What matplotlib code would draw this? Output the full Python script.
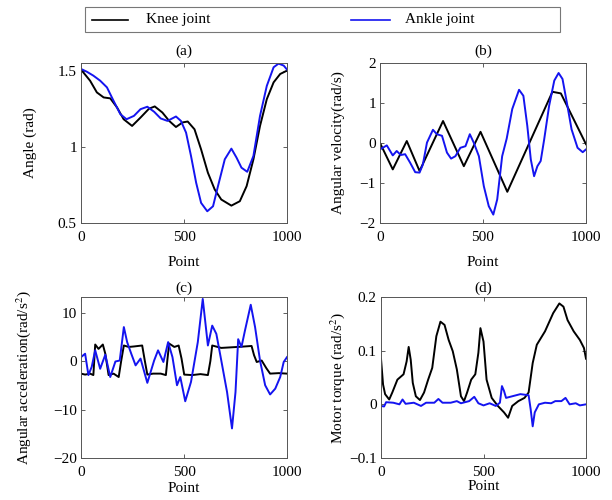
import matplotlib
matplotlib.use("Agg")
import matplotlib.pyplot as plt
from matplotlib.patches import Rectangle
from matplotlib.lines import Line2D
from matplotlib.ticker import FuncFormatter

plt.rcParams['font.family'] = ['Liberation Serif', 'DejaVu Serif']
plt.rcParams['mathtext.fontset'] = 'stix'

# ---------------- data ----------------
# (a) Angle (rad)
a_knee_x = [0, 44, 77, 110, 142, 175, 207, 248, 289, 330, 358, 395, 428, 461, 493, 518, 551, 583, 616, 649, 681, 730, 771, 804, 837, 869, 902, 935, 967, 1000]
a_knee_y = [1.507, 1.434, 1.357, 1.324, 1.318, 1.258, 1.181, 1.137, 1.192, 1.25, 1.265, 1.225, 1.17, 1.13, 1.16, 1.166, 1.115, 0.983, 0.83, 0.72, 0.654, 0.614, 0.643, 0.742, 0.918, 1.137, 1.313, 1.423, 1.478, 1.50]
a_ankle_x = [0, 28, 60, 93, 126, 158, 191, 221, 257, 289, 322, 355, 387, 420, 461, 485, 510, 534, 559, 583, 613, 641, 665, 698, 730, 755, 779, 807, 837, 869, 902, 935, 959, 984, 1000]
a_ankle_y = [1.511, 1.493, 1.467, 1.434, 1.39, 1.302, 1.214, 1.181, 1.203, 1.247, 1.263, 1.23, 1.186, 1.17, 1.199, 1.17, 1.093, 0.94, 0.764, 0.632, 0.577, 0.61, 0.742, 0.918, 0.988, 0.929, 0.863, 0.836, 0.94, 1.203, 1.40, 1.522, 1.546, 1.533, 1.507]

# (b) Angular velocity (rad/s)
b_knee_x = [0, 62, 130, 192, 306, 407, 488, 618, 837, 878, 1000]
b_knee_y = [0.0, -0.66, 0.05, -0.70, 0.55, -0.58, 0.28, -1.22, 1.28, 1.24, -0.03]
b_ankle_x = [0, 33, 62, 81, 101, 122, 146, 171, 192, 208, 228, 257, 276, 301, 325, 345, 366, 390, 415, 436, 455, 480, 504, 528, 550, 569,
             593, 615, 642, 675, 696, 715, 732, 748, 764, 780, 797, 821, 846, 867, 886, 907, 930, 959, 984, 1000]
b_ankle_y = [-0.16, -0.06, -0.31, -0.20, -0.30, -0.28, -0.49, -0.73, -0.74, -0.54, 0.01, 0.33, 0.22, 0.18, -0.24, -0.39, -0.33, -0.12, -0.08, 0.22, 0.01, -0.33, -1.08, -1.58, -1.79, -1.41,
             -0.33, 0.11, 0.85, 1.33, 1.18, 0.43, -0.41, -0.83, -0.58, -0.45, 0.09, 0.93, 1.56, 1.75, 1.60, 1.01, 0.34, -0.12, -0.23, -0.16]

# (c) Angular acceleration (rad/s^2)
c_knee_x = [0, 20, 44, 60, 69, 85, 106, 118, 134, 158, 183, 195, 208, 232, 257, 297, 310, 322, 350, 387, 412, 420, 428, 453, 474, 488, 501,
            540, 580, 616, 628, 637, 681, 760, 828, 840, 853, 877, 900, 918, 960, 1000]
c_knee_y = [-2.6, -2.8, -2.6, -2.9, 3.4, 2.5, 3.4, 1.5, -2.9, -2.6, -3.3, 0.0, 3.2, 2.9, 3.0, 3.2, 0.0, -2.8, -2.6, -2.6, -2.9, 0.5, 3.6, 2.9, 3.2, 0.5, -2.8,
            -2.9, -2.7, -2.9, 0.0, 3.2, 2.7, 2.9, 3.1, 1.2, -0.2, 0.1, -1.5, -2.6, -2.5, -2.6]
c_ankle_x = [0, 20, 36, 52, 69, 93, 118, 142, 167, 188, 208, 224, 244, 265, 289, 322, 355, 374, 400, 423, 444, 466, 482, 506, 534, 567,
             591, 616, 637, 657, 681, 709, 733, 750, 763, 779, 796, 824, 845, 869, 894, 918, 943, 967, 984, 1000]
c_ankle_y = [0.8, 1.5, -2.9, -1.2, 2.2, -1.6, 1.3, -3.3, -0.1, 0.1, 7.0, 3.9, 1.5, -0.9, 0.5, -4.5, 0.1, 2.2, -0.2, 3.9, 0.8, -5.0, -3.3, -8.3, -4.3, 3.9,
             12.8, 3.2, 7.3, 5.6, 0.1, -6.4, -13.9, -6.4, 4.5, 2.9, 6.3, 11.6, 7.0, 0.1, -5.0, -6.9, -5.7, -3.3, -0.2, 0.8]

# (d) Motor torque
d_knee_x = [0, 10, 20, 40, 55, 80, 110, 125, 135, 145, 155, 170, 190, 210, 230, 250, 270, 290, 310, 330, 350, 370, 390, 405,
            420, 440, 460, 475, 485, 500, 515, 540, 570, 600, 620, 640, 670, 700, 720, 740, 760, 800, 840, 870, 890, 910, 940, 970, 990, 1000]
d_knee_y = [0.085, 0.037, 0.019, 0.009, 0.022, 0.046, 0.056, 0.080, 0.107, 0.083, 0.040, 0.015, 0.008, 0.022, 0.046, 0.068, 0.127, 0.154, 0.148, 0.120, 0.099, 0.065, 0.015, 0.006,
            0.022, 0.046, 0.056, 0.096, 0.142, 0.117, 0.046, 0.012, -0.003, -0.015, -0.025, -0.003, 0.006, 0.012, 0.022, 0.077, 0.111, 0.136, 0.170, 0.188, 0.182, 0.157, 0.136, 0.120, 0.105, 0.085]
d_ankle_x = [0, 15, 25, 60, 90, 105, 120, 160, 195, 220, 260, 280, 300, 340, 370, 390, 430, 455, 475, 500, 530, 560, 580, 590, 600, 610,
             640, 680, 720, 730, 740, 750, 770, 800, 830, 850, 880, 900, 920, 950, 970, 1000]
d_ankle_y = [-0.003, -0.004, 0.004, 0.003, 0.0, 0.009, 0.001, 0.003, -0.003, 0.003, 0.003, 0.010, 0.003, 0.003, 0.006, 0.002, 0.006, 0.014, 0.002, -0.002, 0.002, -0.003, 0.003, 0.034, 0.025, 0.012,
             0.015, 0.019, 0.017, -0.009, -0.041, -0.015, 0.0, 0.003, 0.002, 0.006, 0.006, 0.012, 0.0, 0.002, -0.002, 0.0]

labels = ["Knee joint", "Ankle joint"]
titles = ["(a)", "(b)", "(c)", "(d)"]
ylabels = ["Angle (rad)", "Angular velocity(rad/s)", r"Angular acceleration(rad/s$^2$)", r"Motor torque (rad/s$^2$)"]
yticks = [[0.5, 1, 1.5], [-2, -1, 0, 1, 2], [-20, -10, 0, 10], [-0.1, 0, 0.1, 0.2]]
ylims = [(0.5, 1.55), (-2, 2), (-20, 13.2), (-0.1, 0.2)]
xticks = [0, 500, 1000]

series = [(a_knee_x, a_knee_y, a_ankle_x, a_ankle_y),
          (b_knee_x, b_knee_y, b_ankle_x, b_ankle_y),
          (c_knee_x, c_knee_y, c_ankle_x, c_ankle_y),
          (d_knee_x, d_knee_y, d_ankle_x, d_ankle_y)]

KNEE_C = "black"
ANKLE_C = "#1414f0"
FS = 11

fig = plt.figure(figsize=(6.12, 5.0), dpi=100)
W, H = 612.0, 500.0
boxes = [(81, 63, 287, 223), (380, 63, 586, 223), (81, 297, 287, 458), (381, 297, 586, 458)]
ylab_px = [30, 338, 24, 338]
xlab_px = [262, 262, 489, 487]
title_pad = [6, 6, 4, 4]

for i, (l, t, r, b) in enumerate(boxes):
    ax = fig.add_axes([l / W, 1 - b / H, (r - l) / W, (b - t) / H])
    kx, ky, ax_, ay = series[i]
    ax.plot(kx, ky, color=KNEE_C, lw=1.4)
    ax.plot(ax_, ay, color=ANKLE_C, lw=1.4)
    ax.set_xlim(0, 1000)
    ax.set_ylim(*ylims[i])
    ax.set_xticks(xticks)
    ax.set_yticks(yticks[i])
    ax.yaxis.set_major_formatter(FuncFormatter(lambda v, p: ("%g" % v).replace("-", "\u2212")))
    ax.tick_params(direction="in", top=True, right=True, length=3, width=0.6,
                   labelsize=FS, color="#444444")
    ax.tick_params(axis="x", pad=6)
    ax.tick_params(axis="y", pad=3)
    for s in ax.spines.values():
        s.set_color("#555555")
        s.set_linewidth(0.7)
    ax.set_xlabel("Point", fontsize=FS)
    ax.set_ylabel(ylabels[i], fontsize=FS)
    ax.yaxis.set_label_coords((ylab_px[i] - l) / (r - l), 0.5)
    ax.xaxis.set_label_coords(0.5, -(xlab_px[i] - b) / (b - t))
    ax.xaxis.label.set_va("center")
    ax.yaxis.label.set_va("center")
    ax.set_title(titles[i], fontsize=FS, pad=title_pad[i])

# legend
fig.patches.append(Rectangle((85 / W, 1 - 32 / H), (560 - 85) / W, 25 / H,
                             transform=fig.transFigure, fill=False,
                             edgecolor="#777777", linewidth=0.8))
ly = 1 - 19.5 / H
fig.lines.append(Line2D([92 / W, 128 / W], [ly, ly], color=KNEE_C, lw=1.2, transform=fig.transFigure))
fig.lines.append(Line2D([351 / W, 390 / W], [ly, ly], color=ANKLE_C, lw=1.2, transform=fig.transFigure))
fig.text(146 / W, ly, labels[0], fontsize=FS, va="center", ha="left")
fig.text(405 / W, ly, labels[1], fontsize=FS, va="center", ha="left")

fig.savefig("out.png", dpi=100)
